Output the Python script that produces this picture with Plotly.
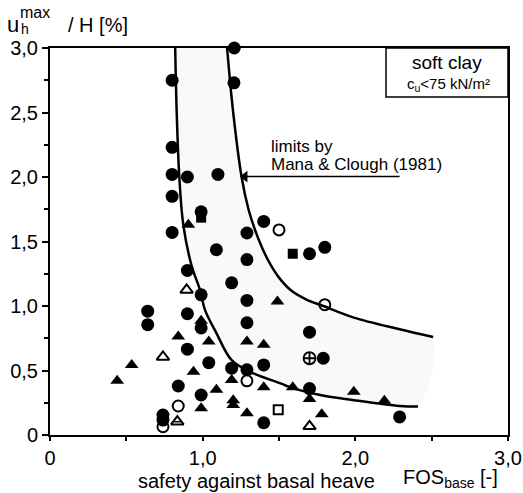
import plotly.graph_objects as go

# ---- data ----
fc_x = [1.207, 0.80, 1.205, 0.80, 0.80, 0.90, 1.10, 0.80, 0.99, 0.80, 1.40, 1.29, 1.09, 1.29, 0.90,
        1.19, 0.99, 1.29, 0.64, 0.64, 0.90, 0.99, 1.29, 0.90, 1.04, 1.19, 1.29, 1.40, 0.84, 0.99,
        1.40, 0.74, 0.74, 1.70, 1.80, 1.70, 1.79, 1.70, 2.29]
fc_y = [3.00, 2.75, 2.73, 2.23, 2.02, 2.00, 2.02, 1.85, 1.73, 1.57, 1.656, 1.566, 1.436, 1.36, 1.276,
        1.18, 1.087, 1.043, 0.96, 0.855, 0.94, 0.83, 0.87, 0.665, 0.561, 0.518, 0.505, 0.543, 0.38, 0.31,
        0.095, 0.155, 0.116, 1.405, 1.455, 0.797, 0.595, 0.36, 0.14]

ft_x = [0.906, 1.49, 0.99, 0.84, 1.04, 0.94, 1.19, 1.29, 1.40, 1.40, 1.09, 0.99, 1.20, 1.20, 1.29,
        0.535, 0.44, 1.59, 1.70, 1.99, 2.19, 1.78]
ft_y = [1.63, 1.035, 0.885, 0.763, 0.724, 0.49, 0.427, 0.724, 0.70, 0.37, 0.35, 0.207, 0.27, 0.233, 0.168,
        0.543, 0.42, 0.37, 0.28, 0.335, 0.265, 0.16]

oc_x = [1.50, 1.80, 1.29, 0.84, 0.74]
oc_y = [1.59, 1.01, 0.42, 0.225, 0.064]

ot_x = [0.895, 0.74, 1.70]
ot_y = [1.125, 0.605, 0.067]

ht_x = [0.834]
ht_y = [0.103]

fs_x = [1.59, 0.99]
fs_y = [1.405, 1.685]

os_x = [1.495]
os_y = [0.195]

cp_x = [1.70]
cp_y = [0.595]

# limit curves (Mana & Clough 1981)
low_x = [0.82, 0.83, 0.847, 0.873, 0.928, 0.982, 1.015, 1.09, 1.19, 1.31, 1.51, 1.59, 1.77, 1.99, 2.29, 2.41]
low_y = [3.00, 2.50, 2.00, 1.63, 1.31, 1.126, 0.97, 0.79, 0.58, 0.49, 0.40, 0.363, 0.31, 0.27, 0.225, 0.22]
up_x = [1.16, 1.20, 1.255, 1.30, 1.34, 1.39, 1.44, 1.50, 1.58, 1.68, 1.79, 1.99, 2.29, 2.51]
up_y = [3.00, 2.50, 2.00, 1.75, 1.60, 1.45, 1.33, 1.22, 1.12, 1.05, 1.00, 0.91, 0.82, 0.76]

# arrow of the "limits by" label (tip on the upper limit curve, tail under the label)
arrow_x = [1.277, 2.29]
arrow_y = [2.003, 2.003]

x_ticks = [0, 1, 2, 3]
x_ticktext = ["0", "1,0", "2,0", "3,0"]
y_ticks = [0, 0.5, 1.0, 1.5, 2.0, 2.5, 3.0]
y_ticktext = ["0", "0,5", "1,0", "1,5", "2,0", "2,5", "3,0"]

FONT = "Arial, 'Liberation Sans', sans-serif"
W, H = 523, 493
L, R, T, B = 50, 15, 48, 58
PW, PH = W - L - R, H - T - B


def px(xp):
    return (xp - L) / PW


def py(yp):
    return (H - B - yp) / PH


fig = go.Figure()

# shaded band between limits
fig.add_trace(go.Scatter(x=low_x + up_x[::-1], y=low_y + up_y[::-1], mode="lines",
                         fill="toself", fillcolor="rgba(0,0,0,0.025)",
                         line=dict(width=0, shape="spline"), hoverinfo="skip", showlegend=False))
fig.add_trace(go.Scatter(x=low_x, y=low_y, mode="lines", line=dict(color="black", width=2.5, shape="spline"),
                         showlegend=False))
fig.add_trace(go.Scatter(x=up_x, y=up_y, mode="lines", line=dict(color="black", width=2.5, shape="spline"),
                         showlegend=False))

# arrow line + head
fig.add_trace(go.Scatter(x=arrow_x, y=arrow_y, mode="lines", line=dict(color="black", width=1.5),
                         showlegend=False, hoverinfo="skip"))
fig.add_trace(go.Scatter(x=arrow_x[:1], y=arrow_y[:1], mode="markers", showlegend=False, hoverinfo="skip",
                         marker=dict(symbol="triangle-left", size=10, color="black")))


def pts(x, y, symbol, size, lw=0):
    fig.add_trace(go.Scatter(x=x, y=y, mode="markers", cliponaxis=False, showlegend=False,
                             marker=dict(symbol=symbol, size=size, color="black",
                                         line=dict(color="black", width=lw))))


pts(fc_x, fc_y, "circle", 13)
pts(ft_x, ft_y, "triangle-up", 12)
pts(oc_x, oc_y, "circle-open", 11, 2)
pts(ot_x, ot_y, "triangle-up-open", 11, 2)
pts(ht_x, ht_y, "triangle-up-open", 11, 2)
pts(ht_x, ht_y, "line-ew", 6, 1.5)
pts(fs_x, fs_y, "square", 10)
pts(os_x, os_y, "square-open", 9, 2)
pts(cp_x, cp_y, "circle-cross-open", 12, 1.8)

axis_common = dict(range=[0, 3], showgrid=False, zeroline=False, showline=True, linecolor="black",
                   linewidth=2, mirror=True, ticks="outside", ticklen=6, tickwidth=2, tickcolor="black",
                   automargin=False,
                   tickfont=dict(family=FONT, size=20, color="black"))
fig.update_xaxes(**axis_common, tickvals=x_ticks, ticktext=x_ticktext,
                 minor=dict(dtick=0.5, ticks="outside", ticklen=4, tickwidth=1.5, tickcolor="black"))
fig.update_yaxes(**axis_common, tickvals=y_ticks, ticktext=y_ticktext,
                 minor=dict(dtick=0.25, ticks="outside", ticklen=4, tickwidth=1.5, tickcolor="black"))
fig.update_xaxes(ticklen=4)

ann = []


def text(s, xp, yp, size, xanchor="left"):
    ann.append(dict(text=s, x=px(xp), y=py(yp), xref="paper", yref="paper", xanchor=xanchor,
                    yanchor="middle", showarrow=False, font=dict(family=FONT, size=size, color="black")))


# y title
text("u", 5, 25, 22)
text("max", 18, 12, 16)
text("h", 19, 29, 14)
text("/ H [%]", 66, 25, 20)
# x title
text("safety against basal heave", 136, 481, 20)
text("FOS<sub>base</sub> [-]", 401, 479, 20)
# soft clay box text
text("soft clay", 447, 62, 19, "center")
text("c<sub>u</sub>&lt;75 kN/m²", 448, 84, 15, "center")
# limits label
text("limits by", 269, 146, 17)
text("Mana &amp; Clough (1981)", 269, 164, 17)

fig.update_layout(
    width=W, height=H, margin=dict(l=L, r=R, t=T, b=B, autoexpand=False),
    plot_bgcolor="white", paper_bgcolor="white",
    annotations=ann,
    shapes=[dict(type="rect", xref="paper", yref="paper", x0=px(386), x1=1.0, y0=py(97), y1=1.0,
                 line=dict(color="black", width=1.5), fillcolor="white", layer="above")],
)

fig.write_html("out.html", config={"displayModeBar": False},
               post_script="document.body.style.margin='0px';")
